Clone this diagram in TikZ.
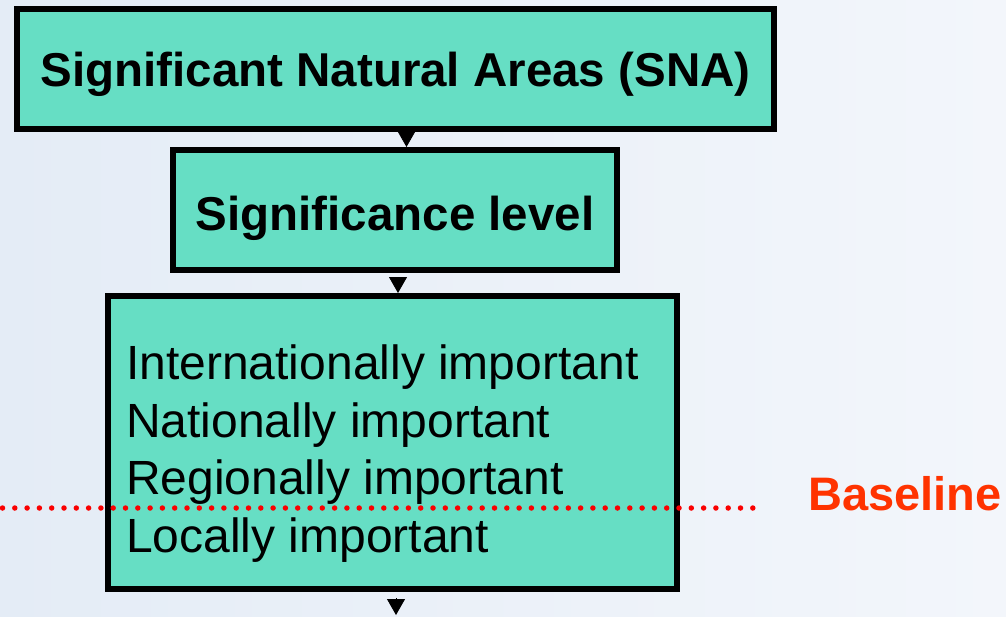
\documentclass[tikz,border=0pt]{standalone}
\usepackage{fontspec}
\setmainfont{Liberation Sans}
\usetikzlibrary{arrows.meta}
\definecolor{SkyMist}{RGB}{228,236,246}
\definecolor{SkyWhite}{RGB}{243,246,251}
\definecolor{Teal}{RGB}{102,222,196}
\definecolor{BaseRed}{RGB}{255,51,0}
\definecolor{DotRed}{RGB}{250,0,0}

\begin{document}
\begin{tikzpicture}[x=1pt,y=-1pt,>=Latex,
  box/.style={draw=black,line width=6pt,fill=Teal,inner sep=0pt,
    font=\fontsize{47.5}{58}\selectfont\bfseries},
  flow/.style={-{Triangle[width=18pt,length=16pt]},line width=.8pt}]
  \shade[left color=SkyMist,right color=SkyWhite] (0,0) rectangle (1006,616);
  \useasboundingbox (0,0) rectangle (1006,616);
  % the three boxes
  \node[box,minimum width=757pt,minimum height=120pt,text height=35pt,text depth=1pt]
    (sna) at (395.5,69) {Significant Natural Areas (SNA)};
  \node[box,minimum width=444pt,minimum height=120pt,text height=40pt,text depth=0pt]
    (level) at (395,210) {Significance level};
  \node[box,minimum width=569pt,minimum height=293pt] (levels) at (392.5,442.5) {};
  \node[anchor=north west,inner sep=0pt,align=left,
    font=\fontsize{48}{57.5}\selectfont] (levelstext) at (126,345)
    {Internationally important\\Nationally important\\
     Regionally important\\Locally important};
  % arrows
  \coordinate (out) at (396,615);
  \draw[flow] ([xshift=11pt]sna.south) -- ([xshift=11pt]sna.south |- level.north);
  \draw[flow,shorten <=4pt] ([xshift=3pt]level.south) -- ([xshift=3pt]level.south |- levels.north);
  \draw[flow,shorten <=6pt] (levels.south -| out) -- (out);
  % baseline
  \coordinate (dotstart) at (2.5,508);
  \coordinate (dotend) at (764,508);
  \draw[DotRed,line width=5.5pt,line cap=round,dash pattern=on 0pt off 12.3pt]
    (dotstart) -- (dotend);
  \node[anchor=base west,inner sep=0pt,text=BaseRed,
    font=\fontsize{47}{56}\selectfont\bfseries] (baseline) at (808,510) {Baseline};
\end{tikzpicture}
\end{document}
